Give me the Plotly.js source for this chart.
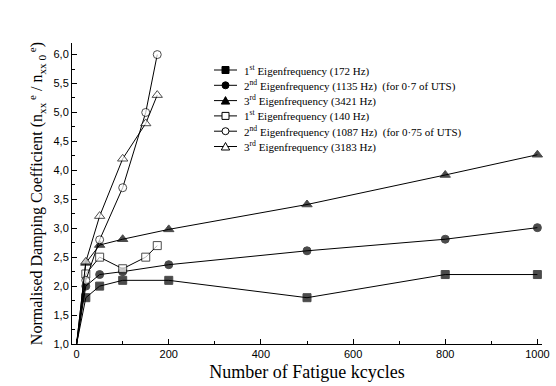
<!DOCTYPE html>
<html><head><meta charset="utf-8">
<script src="https://cdn.plot.ly/plotly-3.0.1.min.js"></script>
<style>html,body{margin:0;padding:0;background:#fff}#c{width:556px;height:386px}</style>
</head><body><div id="c"></div>
<script>
const names = [
  "1<sup>st</sup> Eigenfrequency (172 Hz)",
  "2<sup>nd</sup> Eigenfrequency (1135 Hz)  (for 0·7 of UTS)",
  "3<sup>rd</sup> Eigenfrequency (3421 Hz)",
  "1<sup>st</sup> Eigenfrequency (140 Hz)",
  "2<sup>nd</sup> Eigenfrequency (1087 Hz)  (for 0·75 of UTS)",
  "3<sup>rd</sup> Eigenfrequency (3183 Hz)"
];
const x1 = [0, 20, 50, 100, 200, 500, 800, 1000];
const y1 = [1.0, 1.8, 2.0, 2.1, 2.1, 1.8, 2.2, 2.2];
const x2 = [0, 20, 50, 100, 200, 500, 800, 1000];
const y2 = [1.0, 2.0, 2.2, 2.25, 2.37, 2.61, 2.81, 3.01];
const x3 = [0, 20, 50, 100, 200, 500, 800, 1000];
const y3 = [1.0, 2.4, 2.71, 2.81, 2.98, 3.41, 3.92, 4.27];
const x4 = [0, 20, 50, 100, 150, 175];
const y4 = [1.0, 2.21, 2.5, 2.3, 2.5, 2.7];
const x5 = [0, 20, 50, 100, 150, 175];
const y5 = [1.0, 2.1, 2.8, 3.7, 5.0, 6.0];
const x6 = [0, 20, 50, 100, 150, 175];
const y6 = [1.0, 2.42, 3.21, 4.2, 4.81, 5.3];

const xs = [x1, x2, x3, x4, x5, x6];
const ys = [y1, y2, y3, y4, y5, y6];
const symbols = ['square', 'circle', 'triangle-up', 'square', 'circle', 'triangle-up'];
const filled = [true, true, true, false, false, false];

const SERIF = 'Liberation Serif, Times New Roman, serif';
const SANS = 'Liberation Sans, Arial, sans-serif';

const W = 556, H = 386, ML = 72, MR = 14, MT = 43, MB = 42;
const PW = W - ML - MR, PH = H - MT - MB;
const px = p => (p - ML) / PW;
const py = p => (H - MB - p) / PH;

const traces = xs.map((x, i) => ({
  x: x, y: ys[i], name: names[i], type: 'scatter', mode: 'lines+markers',
  showlegend: false,
  line: {color: '#000', width: 1},
  marker: {
    symbol: symbols[i],
    size: x.map((v, j) => j === 0 ? 0 : (symbols[i] === 'triangle-up' ? 9 : 8)),
    color: filled[i] ? '#000' : '#fff',
    line: {color: '#000', width: 1}
  },
  cliponaxis: false
}));

// hand-made legend (keys drawn as shapes, labels as annotations)
const shapes = [], annotations = [];
names.forEach((nm, i) => {
  const cy = 70 + 15.3 * i;
  const cx = 225.5;
  shapes.push({type: 'line', xref: 'paper', yref: 'paper', x0: px(214), x1: px(237), y0: py(cy), y1: py(cy), line: {color: '#000', width: 1}});
  const fill = filled[i] ? '#000' : '#fff';
  const s = 3.5;
  if (symbols[i] === 'square') {
    shapes.push({type: 'rect', xref: 'paper', yref: 'paper', x0: px(cx - s), x1: px(cx + s), y0: py(cy - s), y1: py(cy + s), fillcolor: fill, line: {color: '#000', width: 1}});
  } else if (symbols[i] === 'circle') {
    shapes.push({type: 'circle', xref: 'paper', yref: 'paper', x0: px(cx - s), x1: px(cx + s), y0: py(cy - s), y1: py(cy + s), fillcolor: fill, line: {color: '#000', width: 1}});
  } else {
    const p = `M${px(cx - 4.2)},${py(cy + 3.5)} L${px(cx + 4.2)},${py(cy + 3.5)} L${px(cx)},${py(cy - 4)} Z`;
    shapes.push({type: 'path', xref: 'paper', yref: 'paper', path: p, fillcolor: fill, line: {color: '#000', width: 1}});
  }
  annotations.push({xref: 'paper', yref: 'paper', x: px(242), y: py(cy), xanchor: 'left', yanchor: 'middle',
    showarrow: false, text: nm, font: {family: SERIF, size: 11, color: '#000'}});
});

const layout = {
  width: W, height: H,
  margin: {l: ML, r: MR, t: MT, b: MB},
  paper_bgcolor: '#fff', plot_bgcolor: '#fff',
  font: {family: SERIF, color: '#000'},
  separators: ',.',
  showlegend: false,
  shapes: shapes,
  annotations: annotations,
  xaxis: {
    range: [-10, 1010], showgrid: false, zeroline: false,
    showline: true, linecolor: '#000', linewidth: 1,
    ticks: 'inside', ticklen: 5, tickcolor: '#000', dtick: 200, tick0: 0,
    minor: {dtick: 100, ticks: 'inside', ticklen: 3, tickcolor: '#000'},
    tickfont: {family: SANS, size: 11, color: '#000'},
    title: {text: 'Number of Fatigue kcycles', font: {family: SERIF, size: 18, color: '#000'}, standoff: 6}
  },
  yaxis: {
    range: [1.0, 6.2], showgrid: false, zeroline: false,
    showline: true, linecolor: '#000', linewidth: 1,
    ticks: 'inside', ticklen: 5, tickcolor: '#000', dtick: 0.5, tick0: 1, tickformat: '.1f',
    minor: {dtick: 0.25, ticks: 'inside', ticklen: 3, tickcolor: '#000'},
    tickfont: {family: SANS, size: 11, color: '#000'},
    title: {text: 'Normalised Damping Coefficient (n<sub>xx</sub><sup> e</sup> / n<sub>xx 0</sub><sup> e</sup>)', font: {family: SERIF, size: 16, color: '#000'}, standoff: 6}
  }
};
Plotly.newPlot('c', traces, layout, {displayModeBar: false, staticPlot: true});
</script></body></html>
